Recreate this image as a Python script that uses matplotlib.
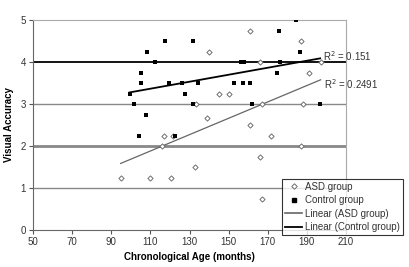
import numpy as np
import matplotlib
matplotlib.use("Agg")
import matplotlib.pyplot as plt
from matplotlib.lines import Line2D

asd_age = [94.8, 109.8, 115.8, 116.8, 120.7, 121.8, 133.0, 133.5, 138.9, 140.0, 145.0, 150.0,
           161.0, 161.0, 165.8, 165.8, 167.0, 167.0, 171.8, 186.9, 186.9, 188.0, 191.3, 197.0]
asd_acc = [1.25, 1.25, 2.0, 2.25, 1.25, 2.25, 1.5, 3.0, 2.67, 4.25, 3.25, 3.25,
           4.75, 2.5, 4.0, 1.75, 3.0, 0.75, 2.25, 4.5, 2.0, 3.0, 3.75, 4.0]

ctl_age = [99.4, 101.5, 104.3, 105.2, 105.2, 107.6, 108.5, 112.4, 117.5, 119.5, 122.4, 126.0,
           127.5, 131.6, 131.6, 134.6, 152.8, 156.5, 158.0, 157.5, 160.9, 162.0, 174.9, 176.0,
           176.4, 184.6, 186.7, 196.8]
ctl_acc = [3.25, 3.0, 2.25, 3.75, 3.5, 2.75, 4.25, 4.0, 4.5, 3.5, 2.25, 3.5,
           3.25, 4.5, 3.0, 3.5, 3.5, 4.0, 4.0, 3.5, 3.5, 3.0, 3.75, 4.75,
           4.0, 5.0, 4.25, 3.0]

r2_labels = ["R$^2$ = 0.151", "R$^2$ = 0.2491"]
x_ticks = [50, 70, 90, 110, 130, 150, 170, 190, 210]
y_ticks = [0, 1, 2, 3, 4, 5]

plt.rcParams['font.family'] = ['Liberation Sans', 'DejaVu Sans']

fig = plt.figure(figsize=(4.09, 2.67), dpi=100)
ax = fig.add_axes([33/409, 1-230/267, (346-33)/409, (230-20)/267])

# gridlines
ax.axhline(1, color='#888888', lw=1.0, zorder=1)
ax.axhline(2, color='#888888', lw=2.0, zorder=1)
ax.axhline(3, color='#888888', lw=1.0, zorder=1)
ax.axhline(4, color='black', lw=1.3, zorder=1)

ax.scatter(asd_age, asd_acc, marker='D', s=7, facecolors='white', edgecolors='#666666',
           linewidths=0.65, zorder=3)
ax.scatter(ctl_age, ctl_acc, marker='s', s=5, color='black', linewidths=0, zorder=4)

xa = np.array([min(asd_age), max(asd_age)])
pa = np.polyfit(asd_age, asd_acc, 1)
ax.plot(xa, np.polyval(pa, xa), color='#666666', lw=0.9, zorder=2)
xc = np.array([min(ctl_age), max(ctl_age)])
pc = np.polyfit(ctl_age, ctl_acc, 1)
ax.plot(xc, np.polyval(pc, xc), color='black', lw=1.3, zorder=2)

ax.text(xc[1] + 1.5, np.polyval(pc, xc[1]) + 0.05, r2_labels[0], fontsize=7, color='#333333',
        va='center', ha='left')
ax.text(xa[1] + 1.5, np.polyval(pa, xa[1]) - 0.1, r2_labels[1], fontsize=7, color='#333333',
        va='center', ha='left')

ax.set_xlim(50, 210)
ax.set_ylim(0, 5)
ax.set_xticks(x_ticks)
ax.set_yticks(y_ticks)
ax.tick_params(labelsize=7, length=3, width=0.8, colors='#555555', labelcolor='#333333', pad=2)
for s in ['top', 'right']:
    ax.spines[s].set_color('#aaaaaa')
    ax.spines[s].set_linewidth(0.8)
for s in ['left', 'bottom']:
    ax.spines[s].set_color('#666666')
    ax.spines[s].set_linewidth(0.8)

ax.set_xlabel('Chronological Age (months)', fontsize=7, fontweight='bold', labelpad=4)
ax.set_ylabel('Visual Accuracy', fontsize=7, fontweight='bold', labelpad=5)

handles = [
    Line2D([], [], marker='D', ls='none', markersize=2.8, markerfacecolor='white',
           markeredgecolor='#666666', markeredgewidth=0.65),
    Line2D([], [], marker='s', ls='none', markersize=2.4, color='black'),
    Line2D([], [], color='#666666', lw=1.2),
    Line2D([], [], color='black', lw=1.3),
]
labels = ['ASD group', 'Control group', 'Linear (ASD group)', 'Linear (Control group)']
leg = fig.legend(handles, labels, loc='lower left', bbox_to_anchor=(282/409, 1-235/267, 121/409, 61/267),
                 mode='expand', fontsize=7, frameon=True, fancybox=False, edgecolor='black',
                 borderpad=0.3, labelspacing=0.35, handlelength=1.8, handletextpad=0.3,
                 borderaxespad=0)
leg.get_frame().set_linewidth(0.8)
for t in leg.get_texts():
    t.set_color('#333333')

fig.savefig('out.png', dpi=100)
